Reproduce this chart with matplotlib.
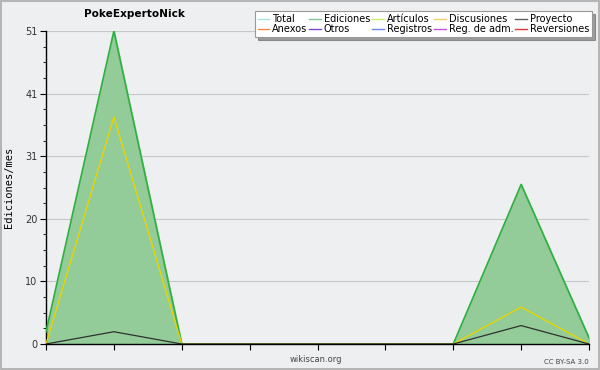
import matplotlib
matplotlib.use('Agg')
import matplotlib.pyplot as plt
import matplotlib.patches as patches
import numpy as np

# monthly values
months = np.arange(9)
ediciones = [2, 51, 0, 0, 0, 0, 0, 26, 1]
articulos = [0, 37, 0, 0, 0, 0, 0, 6, 0]
proyecto = [0, 2, 0, 0, 0, 0, 0, 3, 0]

legend_names = ['Total', 'Ediciones', 'Artículos', 'Discusiones', 'Proyecto',
                'Anexos', 'Otros', 'Registros', 'Reg. de adm.', 'Reversiones']
legend_colors = ['#a8e4e4', '#80c890', '#c8f070', '#f0d060', '#606060',
                 '#f08848', '#8048d0', '#7088f0', '#c850e0', '#e03838']

ymax = 51
yticks = [ymax * k / 5 for k in range(6)]
ytick_labels = [str(int(round(t))) for t in yticks]

bg = '#eeeff1'
fig = plt.figure(figsize=(6, 3.7), dpi=100, facecolor=bg)
ax = fig.add_axes([46/600, 26/370, 543/600, 313/370])
ax.set_facecolor(bg)

# filled edits area and lines
ax.fill_between(months, ediciones, 0, color='#93cc98', zorder=2)
ax.plot(months, ediciones, color='#30b040', lw=1.2, zorder=3)
ax.plot(months, articulos, color='#e8d400', lw=1.0, zorder=4)
ax.plot(months, proyecto, color='#303030', lw=0.9, zorder=5)

ax.set_xlim(0, 8)
ax.set_ylim(0, ymax)
ax.set_xticks(months)
ax.set_xticklabels([])
ax.set_yticks(yticks)
ax.set_yticklabels(ytick_labels, fontsize=7, color='#333333')
ax.set_yticks([ymax * k / 20 for k in range(21)], minor=True)
ax.tick_params(axis='y', which='major', length=4, width=0.8, pad=2, direction='out')
ax.tick_params(axis='y', which='minor', length=2, width=0.6)
ax.tick_params(axis='x', length=4, width=0.8, direction='out')
ax.grid(axis='y', color='#c8c8c8', lw=0.8, zorder=1)
ax.set_axisbelow(True)
for s in ['top', 'right']:
    ax.spines[s].set_visible(False)
ax.spines['left'].set_linewidth(1.0)
ax.spines['bottom'].set_linewidth(1.0)
ax.spines['bottom'].set_zorder(6)

ax.set_ylabel('Ediciones/mes', fontsize=7.5, family='DejaVu Sans Mono', labelpad=8)

fig.text(134/600, 1 - 14/370, 'PokeExpertoNick', fontsize=7.6, fontweight='bold',
         ha='center', va='center')
fig.text(316/600, 1 - 360/370, 'wikiscan.org', fontsize=6, color='#444444',
         ha='center', va='center')
fig.text(589/600, 1 - 362/370, 'CC BY-SA 3.0', fontsize=5, color='#444444',
         ha='right', va='center')

# legend box with shadow
handles = [plt.Line2D([], [], color=c, lw=1) for c in legend_colors]
order = [0, 5, 1, 6, 2, 7, 3, 8, 4, 9]
leg = fig.legend([handles[i] for i in order], [legend_names[i] for i in order],
                 ncol=5, loc='upper right', bbox_to_anchor=(592/600, 1 - 11/370),
                 fontsize=7, frameon=True, fancybox=False, shadow=True,
                 handlelength=1.2, handletextpad=0.3, columnspacing=0.2,
                 labelspacing=0.05, borderpad=0.3, borderaxespad=0)
leg.get_frame().set_edgecolor('#999999')
leg.get_frame().set_linewidth(0.8)
leg.get_frame().set_facecolor('white')

# figure border
fig.patches.append(patches.Rectangle((0.001, 0.002), 0.997, 0.995, transform=fig.transFigure,
                                     fill=False, edgecolor='#aaaaaa', lw=1.2))

fig.savefig('out.png', dpi=100, facecolor=bg)
